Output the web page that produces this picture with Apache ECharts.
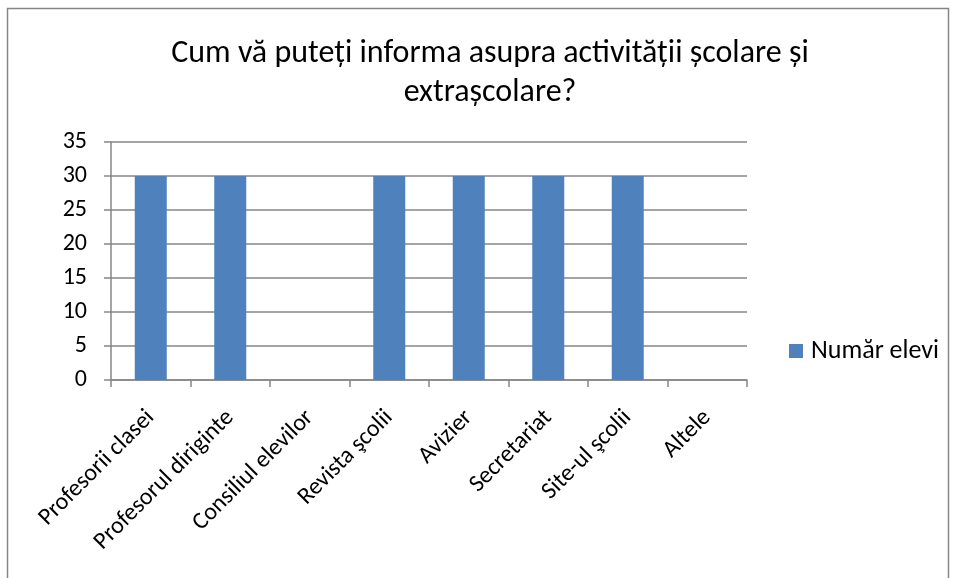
<!DOCTYPE html>
<html>
<head>
<meta charset="utf-8">
<script src="https://cdn.jsdelivr.net/npm/echarts@6/dist/echarts.min.js"></script>
<style>
  html, body { margin: 0; padding: 0; background: #fff; }
  #chart { width: 953px; height: 578px; }
</style>
</head>
<body>
<div id="chart"></div>
<script>
// date
var categorii = ['Profesorii clasei', 'Profesorul diriginte', 'Consiliul elevilor', 'Revista şcolii',
  'Avizier', 'Secretariat', 'Site-ul şcolii', 'Altele'];
var numarElevi = [30, 30, 0, 30, 30, 30, 30, 0];
var numeSerie = 'Număr elevi';
var titlu = 'Cum vă puteți informa asupra activității școlare și\nextrașcolare?';

var font = 'Carlito, "Noto Sans", sans-serif';
var myChart = echarts.init(document.getElementById('chart'));
var option = {
  animation: false,
  textStyle: { fontFamily: font },
  graphic: [{
    type: 'rect',
    shape: { x: 7.5, y: 8.5, width: 941, height: 600 },
    style: { fill: 'none', stroke: '#868686', lineWidth: 1.5 },
    silent: true
  }],
  title: {
    text: titlu,
    left: 485,
    top: 29,
    textAlign: 'center',
    textStyle: { fontFamily: font, fontSize: 32, fontWeight: 'normal', color: '#000', lineHeight: 39 }
  },
  legend: {
    data: [numeSerie],
    left: 784,
    top: 333,
    itemWidth: 14,
    itemHeight: 14,
    itemGap: 10,
    icon: 'rect',
    textStyle: { fontFamily: font, fontSize: 26, color: '#000', padding: [0, 0, 0, 3] }
  },
  grid: { left: 111, right: 206, top: 142, bottom: 198 },
  xAxis: {
    type: 'category',
    data: categorii,
    axisLine: { lineStyle: { color: '#868686', width: 1.5 } },
    axisTick: { show: true, length: 7, alignWithLabel: false, lineStyle: { color: '#868686', width: 1.5 } },
    axisLabel: { rotate: 45, interval: 0, margin: 17, verticalAlign: 'top', padding: [0, 12, 0, 0], fontSize: 24, color: '#000', fontFamily: font }
  },
  yAxis: {
    type: 'value',
    min: 0,
    max: 35,
    interval: 5,
    axisLine: { show: true, lineStyle: { color: '#868686', width: 1.5 } },
    axisTick: { show: true, length: 7, lineStyle: { color: '#868686', width: 1.5 } },
    axisLabel: { fontSize: 24, color: '#000', margin: 24, fontFamily: font },
    splitLine: { lineStyle: { color: '#868686', width: 1.5 } }
  },
  series: [{
    name: numeSerie,
    type: 'bar',
    data: numarElevi,
    barWidth: 32,
    itemStyle: { color: '#4F81BD' }
  }]
};
myChart.setOption(option);
</script>
</body>
</html>
